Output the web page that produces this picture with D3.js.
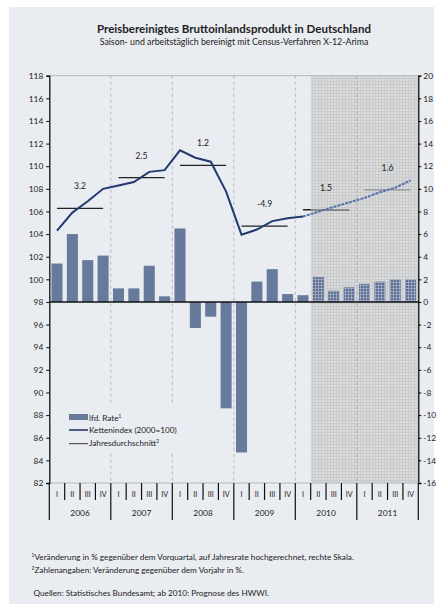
<!DOCTYPE html>
<html>
<head>
<meta charset="utf-8">
<script src="https://cdn.jsdelivr.net/npm/d3@7"></script>
<style>
  body { margin: 0; background: #fff; }
  svg text { font-family: Lato, "Open Sans", sans-serif; fill: #222; }
</style>
</head>
<body>
<div id="chart"></div>
<script>
// data
var years = ["2006", "2007", "2008", "2009", "2010", "2011"];
var quarterNames = ["I", "II", "III", "IV"];
// annualised quarter-on-quarter rate, right scale (%)
var rate = [3.4, 6.0, 3.7, 4.1,  1.2, 1.2, 3.2, 0.5,  6.5, -2.3, -1.3, -9.4,
            -13.3, 1.8, 2.9, 0.7,  0.6, 2.2, 1.0, 1.3,  1.6, 1.8, 2.0, 2.0];
// chain index 2000=100, left scale
var index = [104.3, 105.9, 106.9, 108.0,  108.3, 108.6, 109.5, 109.65,  111.4, 110.75, 110.4, 107.75,
             103.95, 104.4, 105.15, 105.4,  105.55, 105.98, 106.4, 106.8,  107.2, 107.7, 108.1, 108.75];
// yearly average of the index and the change vs previous year
var yearAvg = [106.28, 109.0, 110.07, 104.7, 106.15, 107.9];
var yearChange = ["3.2", "2.5", "1.2", "-4.9", "1.5", "1.6"];
var forecastFrom = 17; // 2010 Q2 onwards is forecast
var leftTicks = [82, 84, 86, 88, 90, 92, 94, 96, 98, 100, 102, 104, 106, 108, 110, 112, 114, 116, 118];
var rightTicks = [-16, -14, -12, -10, -8, -6, -4, -2, 0, 2, 4, 6, 8, 10, 12, 14, 16, 18, 20];

var W = 438, H = 608;
var margin = {top: 75.7, right: 19.7, bottom: 125, left: 49.3};
var pL = margin.left, pR = W - margin.right, pT = margin.top, pB = H - margin.bottom;

var barColor = "#687a9c", lineColor = "#213a70", bg = "#e9ecf1";

var svg = d3.select("#chart").append("svg")
    .attr("width", W).attr("height", H);

var defs = svg.append("defs");
// fine grid for the forecast area
var pg = defs.append("pattern").attr("id", "fgrid")
    .attr("patternUnits", "userSpaceOnUse").attr("width", 3).attr("height", 3);
pg.append("rect").attr("width", 3).attr("height", 3).attr("fill", "#dadbdc");
pg.append("path").attr("d", "M0,0.5H3M0.5,0V3").attr("stroke", "#c5c6c8").attr("stroke-width", 0.8);
// checkered bars in the forecast
var pb = defs.append("pattern").attr("id", "fbar")
    .attr("patternUnits", "userSpaceOnUse").attr("width", 3).attr("height", 3);
pb.append("rect").attr("width", 3).attr("height", 3).attr("fill", "#5c6e94");
pb.append("path").attr("d", "M0,0.5H3M0.5,0V3").attr("stroke", "#a3aec4").attr("stroke-width", 0.8);

// panel background
svg.append("rect").attr("x", 9).attr("y", 7).attr("width", 425).attr("height", 597).attr("fill", bg);

// titles
svg.append("text").attr("x", 234).attr("y", 33).attr("text-anchor", "middle")
    .attr("font-size", 11.5).attr("font-weight", "bold")
    .text("Preisbereinigtes Bruttoinlandsprodukt in Deutschland");
svg.append("text").attr("x", 234).attr("y", 45).attr("text-anchor", "middle")
    .attr("font-size", 8.8).attr("fill", "#333")
    .text("Saison- und arbeitstäglich bereinigt mit Census-Verfahren X-12-Arima");

// scales
var quarters = [];
years.forEach(function(y){ quarterNames.forEach(function(q){ quarters.push(y + "-" + q); }); });

var x = d3.scaleBand().domain(quarters).range([pL, pR])
    .paddingInner(0.28).paddingOuter(0.14);
var step = x.step();
function qStart(i){ return x(quarters[i]) - step * 0.14; }
function qMid(i){ return x(quarters[i]) + x.bandwidth() / 2; }

var yL = d3.scaleLinear().domain([82, 118]).range([pB, pT]);
var yR = d3.scaleLinear().domain([-16, 20]).range([pB, pT]);

// forecast shading
svg.append("rect")
    .attr("x", qStart(forecastFrom)).attr("y", pT)
    .attr("width", pR - qStart(forecastFrom)).attr("height", pB - pT)
    .attr("fill", "url(#fgrid)");

// top and bottom frame lines
svg.append("line").attr("x1", pL).attr("x2", pR).attr("y1", pT).attr("y2", pT)
    .attr("stroke", "#b5b7ba").attr("stroke-width", 1);
svg.append("line").attr("x1", pL).attr("x2", pR).attr("y1", pB).attr("y2", pB)
    .attr("stroke", "#b5b7ba").attr("stroke-width", 1);

// dashed year separators
svg.selectAll(".ysep").data(years.slice(1)).enter().append("line")
    .attr("x1", function(d, i){ return qStart((i + 1) * 4); })
    .attr("x2", function(d, i){ return qStart((i + 1) * 4); })
    .attr("y1", pT).attr("y2", pB)
    .attr("stroke", "#a9abae").attr("stroke-width", 0.8).attr("stroke-dasharray", "3,3");

// bars
svg.selectAll(".bar").data(rate).enter().append("rect")
    .attr("x", function(d, i){ return x(quarters[i]); })
    .attr("y", function(d){ return yR(Math.max(0, d)); })
    .attr("width", x.bandwidth())
    .attr("height", function(d){ return Math.abs(yR(d) - yR(0)); })
    .attr("fill", function(d, i){ return i >= forecastFrom ? "url(#fbar)" : barColor; });

// zero line
svg.append("line").attr("x1", pL).attr("x2", pR).attr("y1", yR(0)).attr("y2", yR(0))
    .attr("stroke", "#111").attr("stroke-width", 1.4);

// yearly average lines
svg.selectAll(".avg").data(yearAvg).enter().append("line")
    .attr("x1", function(d, i){ return qMid(i * 4); })
    .attr("x2", function(d, i){ return qMid(i * 4 + 3); })
    .attr("y1", function(d){ return yL(d); })
    .attr("y2", function(d){ return yL(d); })
    .attr("stroke", function(d, i){ return i >= 5 ? "#8d8f93" : "#222"; })
    .attr("stroke-width", 1.3);
// 2010 average: the forecast part is grey
svg.append("line")
    .attr("x1", qStart(forecastFrom)).attr("x2", qMid(19))
    .attr("y1", yL(yearAvg[4])).attr("y2", yL(yearAvg[4]))
    .attr("stroke", "#8d8f93").attr("stroke-width", 1.4);

svg.selectAll(".avgLabel").data(yearChange).enter().append("text")
    .attr("x", function(d, i){ return qStart(i * 4) + 2 * step; })
    .attr("y", function(d, i){ return yL(yearAvg[i]) - 19; })
    .attr("text-anchor", "middle").attr("font-size", 8.6).attr("fill", "#333")
    .text(function(d){ return d; });

// index line
var line = d3.line()
    .x(function(d){ return qMid(d.i); })
    .y(function(d){ return yL(d.v); });
var pts = index.map(function(v, i){ return {i: i, v: v}; });
svg.append("path").datum(pts.slice(0, forecastFrom))
    .attr("d", line).attr("fill", "none")
    .attr("stroke", lineColor).attr("stroke-width", 2);
svg.append("path").datum(pts.slice(forecastFrom - 1))
    .attr("d", line).attr("fill", "none")
    .attr("stroke", "#5470a8").attr("stroke-width", 2).attr("stroke-dasharray", "3,1");

// left axis
var axL = svg.append("g").attr("transform", "translate(" + pL + ",0)")
    .call(d3.axisLeft(yL).tickValues(leftTicks).tickSize(3).tickPadding(3));
axL.select(".domain").attr("stroke", "#111").attr("stroke-width", 1.3);
axL.selectAll("text").attr("font-size", 8.4).attr("fill", "#333").attr("font-family", "Lato");

// right axis
var axR = svg.append("g").attr("transform", "translate(" + pR + ",0)")
    .call(d3.axisRight(yR).tickValues(rightTicks).tickSize(3).tickPadding(2)
        .tickFormat(function(d){ return d; }));
axR.select(".domain").attr("stroke", "#111").attr("stroke-width", 1.3);
axR.selectAll("text").attr("font-size", 8.4).attr("fill", "#333").attr("font-family", "Lato");

// bottom axis: quarters and years
var qIdx = d3.range(quarters.length + 1);
svg.selectAll(".qtick").data(qIdx).enter().append("line")
    .attr("x1", function(i){ return i < quarters.length ? qStart(i) : pR; })
    .attr("x2", function(i){ return i < quarters.length ? qStart(i) : pR; })
    .attr("y1", pB)
    .attr("y2", function(i){ return i % 4 === 0 ? pB + 37 : pB + 17; })
    .attr("stroke", "#111").attr("stroke-width", 1.2);
svg.selectAll(".qlab").data(quarters).enter().append("text")
    .attr("x", function(d, i){ return qStart(i) + step / 2; })
    .attr("y", pB + 14)
    .attr("text-anchor", "middle").attr("font-size", 7.2).attr("fill", "#333")
    .text(function(d){ return d.split("-")[1]; });
svg.selectAll(".ylab").data(years).enter().append("text")
    .attr("x", function(d, i){ return qStart(i * 4) + 2 * step; })
    .attr("y", pB + 33)
    .attr("text-anchor", "middle").attr("font-size", 8.4).attr("fill", "#333")
    .text(function(d){ return d; });

// legend
var lg = svg.append("g");
lg.append("rect").attr("x", 64).attr("y", 406).attr("width", 117).attr("height", 46).attr("fill", bg);
lg.append("rect").attr("x", 69).attr("y", 414).attr("width", 19).attr("height", 6).attr("fill", barColor);
lg.append("line").attr("x1", 69).attr("x2", 88).attr("y1", 430).attr("y2", 430)
    .attr("stroke", lineColor).attr("stroke-width", 1.6);
lg.append("line").attr("x1", 69).attr("x2", 88).attr("y1", 443.7).attr("y2", 443.7)
    .attr("stroke", "#333").attr("stroke-width", 1);
var t1 = lg.append("text").attr("x", 89).attr("y", 420.5).attr("font-size", 8.2);
t1.append("tspan").text("lfd. Rate");
t1.append("tspan").attr("font-size", 4.8).attr("dy", -3).text("1");
lg.append("text").attr("x", 89).attr("y", 433).attr("font-size", 8.2).text("Kettenindex (2000=100)");
var t3 = lg.append("text").attr("x", 89).attr("y", 446).attr("font-size", 8.2);
t3.append("tspan").text("Jahresdurchschnitt");
t3.append("tspan").attr("font-size", 4.8).attr("dy", -3).text("2");

// footnotes
var f1 = svg.append("text").attr("x", 31.5).attr("y", 560).attr("font-size", 8.2);
f1.append("tspan").attr("font-size", 5).attr("dy", -3).text("1");
f1.append("tspan").attr("dy", 3).text("Veränderung in % gegenüber dem Vorquartal, auf Jahresrate hochgerechnet, rechte Skala.");
var f2 = svg.append("text").attr("x", 31.5).attr("y", 573).attr("font-size", 8.2);
f2.append("tspan").attr("font-size", 5).attr("dy", -3).text("2");
f2.append("tspan").attr("dy", 3).text("Zahlenangaben: Veränderung gegenüber dem Vorjahr in %.");
svg.append("text").attr("x", 33.5).attr("y", 596).attr("font-size", 8.2)
    .text("Quellen: Statistisches Bundesamt; ab 2010: Prognose des HWWI.");
</script>
</body>
</html>
